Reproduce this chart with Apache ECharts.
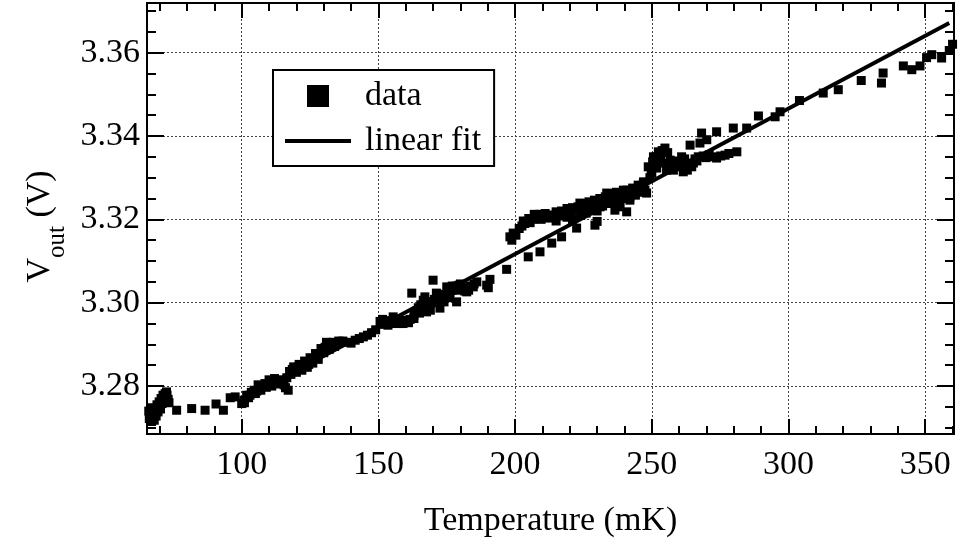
<!DOCTYPE html>
<html>
<head>
<meta charset="utf-8">
<script src="https://cdn.jsdelivr.net/npm/echarts@6/dist/echarts.min.js"></script>
<style>
  html, body { margin: 0; background: #fff; }
  #chart { width: 958px; height: 544px; }
</style>
</head>
<body>
<div id="chart"></div>
<script>
const temperature = [
  66.0, 66.4, 66.8, 67.2, 67.6, 68.0, 68.3, 68.7, 69.0, 69.4, 69.8, 70.1, 70.5, 70.9, 71.2, 71.6, 72.0, 72.3, 72.7, 73.1, 73.4,
  76.2, 81.7, 86.6, 90.6, 93.3, 95.8, 97.6, 100.0, 101.8,
  100.8, 102.5, 103.5, 104.5, 105.5, 106.5, 107.5, 108.5, 109.5, 110.5, 111.5, 112.5, 113.5, 114.5, 115.5, 116.0, 116.5, 117.0,
  117.5, 118.5, 119.5, 120.5, 121.5, 122.5, 123.5, 124.5, 125.5, 126.5, 127.5, 128.5, 129.5, 130.5, 131.5, 132.5, 133.5, 134.5, 135.5,
  137.0, 138.5, 140.0, 141.5, 143.0, 144.5, 146.0, 147.5, 149.0,
  150.6, 151.5, 152.5, 153.5, 154.5, 155.4, 156.5, 157.5, 158.5, 159.5, 160.5, 161.6, 162.2, 163.0, 164.0, 164.6, 165.5, 166.4,
  167.0, 167.6, 168.5, 169.2, 170.0, 170.5, 171.2, 172.0, 172.5, 173.5, 174.2, 175.0, 175.5, 176.2, 177.0, 177.8, 178.6, 178.6,
  179.5, 180.2, 181.1, 181.6, 182.3, 183.5, 184.7, 186.0, 189.6, 190.2, 190.8,
  196.9, 198.1, 198.8, 199.3, 200.3, 201.5, 202.5, 203.5, 204.5, 204.8, 205.5, 206.5, 207.5, 208.5, 209.1, 209.5, 210.5, 211.5,
  212.5, 213.4, 214.5, 215.5, 216.5, 217.0, 217.6, 218.5, 219.5, 220.5, 221.5, 222.5, 223.7, 224.5, 225.5, 226.8, 227.5, 228.5,
  229.2, 230.0, 231.1, 232.0, 233.5, 234.5, 235.5, 236.5, 237.5, 238.4, 239.6, 240.5, 240.8, 242.0, 243.0, 244.0, 245.0, 245.7,
  246.9, 247.5, 248.1, 248.7, 249.3, 250.0, 250.6, 251.2, 251.8, 252.4, 253.2, 254.2, 254.8, 255.4, 256.7, 257.9, 258.5, 259.1,
  260.2, 260.9, 261.5, 262.5, 263.5, 264.0, 264.6, 265.2, 266.5, 267.6, 268.2, 270.1, 271.0, 272.3, 273.7, 273.7, 275.2, 276.8,
  278.2, 279.8, 281.1, 284.7, 289.0, 295.1, 296.9, 304.0, 312.7, 318.2, 326.6, 334.0, 334.6, 342.0, 345.1, 348.1, 350.5, 352.4,
  356.0, 358.8, 360.0,
  // thickness of the dense stretches
  66.2, 67.0, 68.5, 70.3, 71.8, 72.5,
  101.0, 103.0, 105.0, 107.0, 109.0, 111.0, 113.0, 118.0, 120.0, 122.0, 124.0, 126.0, 128.0, 130.0, 132.0, 134.0,
  106.0, 110.0, 112.0, 119.0, 121.0, 123.0, 125.0, 127.0, 129.0, 131.0,
  151.0, 153.0, 155.0, 157.0, 159.0, 161.0, 163.0, 165.0, 166.0, 168.0, 169.0, 171.0, 173.0, 174.0, 176.0, 177.0, 179.0, 180.0,
  182.0, 183.0, 185.0,
  203.0, 205.0, 207.0, 209.0, 211.0, 213.0, 215.0, 217.0, 219.0, 221.0, 223.0, 225.0, 227.0, 229.0, 231.0, 233.0, 235.0, 237.0,
  239.0, 241.0, 243.0, 245.0, 247.0,
  215.0, 219.0, 221.0, 224.0, 226.0, 228.0, 230.0, 232.0, 234.0, 236.0, 238.0, 240.0, 242.0, 244.0, 246.0,
  249.8, 250.3, 251.5, 252.8, 253.8, 255.8, 256.2, 257.3, 258.0, 259.6, 261.2, 262.0, 263.0, 265.8, 267.0, 268.8, 269.8
]
const vout = [
  3.2740, 3.2730, 3.2748, 3.2722, 3.2735, 3.2718, 3.2745, 3.2728, 3.2755, 3.2738, 3.2762, 3.2750, 3.2770, 3.2758, 3.2778, 3.2765, 3.2782, 3.2772, 3.2778, 3.2768, 3.2760,
  3.2742, 3.2746, 3.2742, 3.2757, 3.2742, 3.2772, 3.2774, 3.2758, 3.2778,
  3.2766, 3.2772, 3.2785, 3.2790, 3.2788, 3.2796, 3.2800, 3.2806, 3.2804, 3.2810, 3.2808, 3.2812, 3.2815, 3.2808, 3.2803, 3.2796, 3.2820, 3.2790,
  3.2835, 3.2840, 3.2838, 3.2845, 3.2842, 3.2850, 3.2855, 3.2852, 3.2862, 3.2866, 3.2872, 3.2878, 3.2885, 3.2893, 3.2900, 3.2897, 3.2905, 3.2903, 3.2908,
  3.2908, 3.2905, 3.2903, 3.2910, 3.2914, 3.2918, 3.2922, 3.2928, 3.2935,
  3.2955, 3.2960, 3.2950, 3.2946, 3.2955, 3.2966, 3.2952, 3.2950, 3.2954, 3.2958, 3.2956, 3.2960, 3.3023, 3.2970, 3.2980, 3.2988, 3.2995, 3.3006,
  3.3014, 3.2978, 3.2990, 3.3000, 3.3054, 3.3008, 3.3023, 3.3015, 3.2987, 3.3010, 3.3020, 3.3038, 3.3028, 3.3023, 3.3030, 3.3035, 3.3002, 3.3040,
  3.3042, 3.3035, 3.3038, 3.3028, 3.3026, 3.3040, 3.3038, 3.3050, 3.3042, 3.3036, 3.3056,
  3.3080, 3.3158, 3.3150, 3.3167, 3.3162, 3.3178, 3.3184, 3.3190, 3.3195, 3.3110, 3.3192, 3.3200, 3.3208, 3.3205, 3.3122, 3.3200, 3.3205, 3.3208,
  3.3203, 3.3143, 3.3210, 3.3212, 3.3208, 3.3158, 3.3215, 3.3213, 3.3220, 3.3217, 3.3222, 3.3179, 3.3239, 3.3228, 3.3232, 3.3222, 3.3236, 3.3240,
  3.3186, 3.3195, 3.3230, 3.3245, 3.3263, 3.3250, 3.3255, 3.3222, 3.3258, 3.3230, 3.3270, 3.3262, 3.3218, 3.3246, 3.3265, 3.3272, 3.3268, 3.3278,
  3.3287, 3.3270, 3.3263, 3.3326, 3.3300, 3.3311, 3.3350, 3.3336, 3.3323, 3.3362, 3.3345, 3.3335, 3.3371, 3.3318, 3.3342, 3.3318, 3.3328, 3.3326,
  3.3332, 3.3350, 3.3314, 3.3322, 3.3330, 3.3378, 3.3326, 3.3335, 3.3340, 3.3383, 3.3407, 3.3391, 3.3355, 3.3350, 3.3410, 3.3347, 3.3352, 3.3354,
  3.3358, 3.3419, 3.3362, 3.3419, 3.3448, 3.3446, 3.3458, 3.3485, 3.3503, 3.3511, 3.3533, 3.3527, 3.3551, 3.3568, 3.3559, 3.3568, 3.3588, 3.3595,
  3.3587, 3.3605, 3.3620,
  3.2722, 3.2715, 3.2735, 3.2745, 3.2775, 3.2786,
  3.2760, 3.2778, 3.2782, 3.2790, 3.2797, 3.2800, 3.2805, 3.2828, 3.2833, 3.2838, 3.2845, 3.2855, 3.2864, 3.2880, 3.2888, 3.2895,
  3.2803, 3.2815, 3.2818, 3.2846, 3.2852, 3.2860, 3.2868, 3.2878, 3.2890, 3.2905,
  3.2948, 3.2957, 3.2950, 3.2958, 3.2950, 3.2952, 3.2962, 3.2975, 3.2985, 3.3002, 3.2982, 3.3000, 3.3020, 3.3002, 3.3012, 3.3040, 3.3030, 3.3045,
  3.3034, 3.3030, 3.3045,
  3.3196, 3.3202, 3.3212, 3.3212, 3.3214, 3.3210, 3.3218, 3.3220, 3.3226, 3.3228, 3.3230, 3.3238, 3.3242, 3.3246, 3.3250, 3.3254, 3.3262, 3.3265,
  3.3262, 3.3270, 3.3275, 3.3282, 3.3290,
  3.3196, 3.3205, 3.3200, 3.3210, 3.3215, 3.3225, 3.3220, 3.3232, 3.3238, 3.3240, 3.3245, 3.3250, 3.3255, 3.3258, 3.3265,
  3.3320, 3.3338, 3.3350, 3.3355, 3.3365, 3.3360, 3.3330, 3.3326, 3.3340, 3.3338, 3.3340, 3.3345, 3.3318, 3.3345, 3.3350, 3.3352, 3.3348
]

// linear fit end points
const fitT = [100, 358.8]
const fitV = [3.2768, 3.3671]

const xMajor = [100, 150, 200, 250, 300, 350]
const xMinor = [70, 80, 90, 110, 120, 130, 140, 160, 170, 180, 190, 210, 220, 230, 240, 260, 270, 280, 290, 310, 320, 330, 340, 360]
const yMajor = [3.28, 3.30, 3.32, 3.34, 3.36]
const yMinor = [3.270, 3.275, 3.285, 3.290, 3.295, 3.305, 3.310, 3.315, 3.325, 3.330, 3.335, 3.345, 3.350, 3.355, 3.365, 3.370]

const FONT = 'Liberation Serif'
const X_RANGE = [65.36, 360.53]
const Y_RANGE = [3.2685, 3.3719]

// one axis per side and tick size, all sharing the same range
function makeAxis (range, position, ticks, len, main) {
  return {
    type: 'value',
    position,
    min: range[0],
    max: range[1],
    axisLine: { show: true, onZero: false, lineStyle: { color: '#000', width: 2 } },
    axisTick: { show: true, inside: true, length: len, customValues: ticks, lineStyle: { color: '#000', width: 2 } },
    axisLabel: { show: !!main, customValues: ticks },
    splitLine: { show: !!main, lineStyle: { color: '#444', width: 1, type: [2, 2] } },
  }
}

const xAxes = [
  makeAxis(X_RANGE, 'bottom', xMajor, 15, true),
  makeAxis(X_RANGE, 'bottom', xMinor, 8),
  makeAxis(X_RANGE, 'top', xMajor, 15),
  makeAxis(X_RANGE, 'top', xMinor, 8),
]
const yAxes = [
  makeAxis(Y_RANGE, 'left', yMajor, 17, true),
  makeAxis(Y_RANGE, 'left', yMinor, 9),
  makeAxis(Y_RANGE, 'right', yMajor, 17),
  makeAxis(Y_RANGE, 'right', yMinor, 9),
]

Object.assign(xAxes[0].axisLabel, {
  margin: 14, color: '#000', fontFamily: FONT, fontSize: 34,
})
Object.assign(xAxes[0], {
  name: 'Temperature (mK)',
  nameLocation: 'middle',
  nameGap: 70,
  nameTextStyle: { color: '#000', fontFamily: FONT, fontSize: 34 },
})
Object.assign(yAxes[0].axisLabel, {
  margin: 7, color: '#000', fontFamily: FONT, fontSize: 34,
  formatter: v => v.toFixed(2),
})
Object.assign(yAxes[0], {
  name: '{v|V}{s|out}{v| (V)}',
  nameLocation: 'middle',
  nameRotate: 90,
  nameGap: 87,
  nameTextStyle: {
    color: '#000',
    fontFamily: FONT,
    padding: [0, 16, 0, 0],
    rich: {
      v: { fontFamily: FONT, fontSize: 34, lineHeight: 34, verticalAlign: 'top', color: '#000' },
      s: { fontFamily: FONT, fontSize: 25, lineHeight: 25, verticalAlign: 'top', padding: [22, 0, 0, 0], color: '#000' },
    },
  },
})

const chart = echarts.init(document.getElementById('chart'), null, { renderer: 'canvas' })

chart.setOption({
  animation: false,
  backgroundColor: '#fff',
  grid: { left: 147, top: 3, right: 4, bottom: 110, containLabel: false },
  xAxis: xAxes,
  yAxis: yAxes,
  legend: {
    left: 273,
    top: 70,
    orient: 'vertical',
    backgroundColor: '#fff',
    borderColor: '#000',
    borderWidth: 2,
    borderRadius: 0,
    padding: [9, 13, 8, 12],
    itemGap: 11,
    itemWidth: 66,
    itemHeight: 22,
    textStyle: { color: '#000', fontFamily: FONT, fontSize: 34, padding: [0, 0, 0, 9] },
    data: [
      { name: 'data', icon: 'path://M0 0H10V10H0Z' },
      { name: 'linear fit', icon: 'path://M0 0H66V4H0Z' },
    ],
  },
  series: [
    {
      name: 'data',
      type: 'scatter',
      symbol: 'rect',
      symbolSize: 9,
      symbolKeepAspect: true,
      itemStyle: { color: '#000', opacity: 1 },
      data: temperature.map((t, i) => [t, vout[i]]),
    },
    {
      name: 'linear fit',
      type: 'line',
      symbol: 'none',
      symbolKeepAspect: true,
      itemStyle: { color: '#000' },
      lineStyle: { color: '#000', width: 4 },
      data: fitT.map((t, i) => [t, fitV[i]]),
      z: 3,
    },
  ],
})
</script>
</body>
</html>
